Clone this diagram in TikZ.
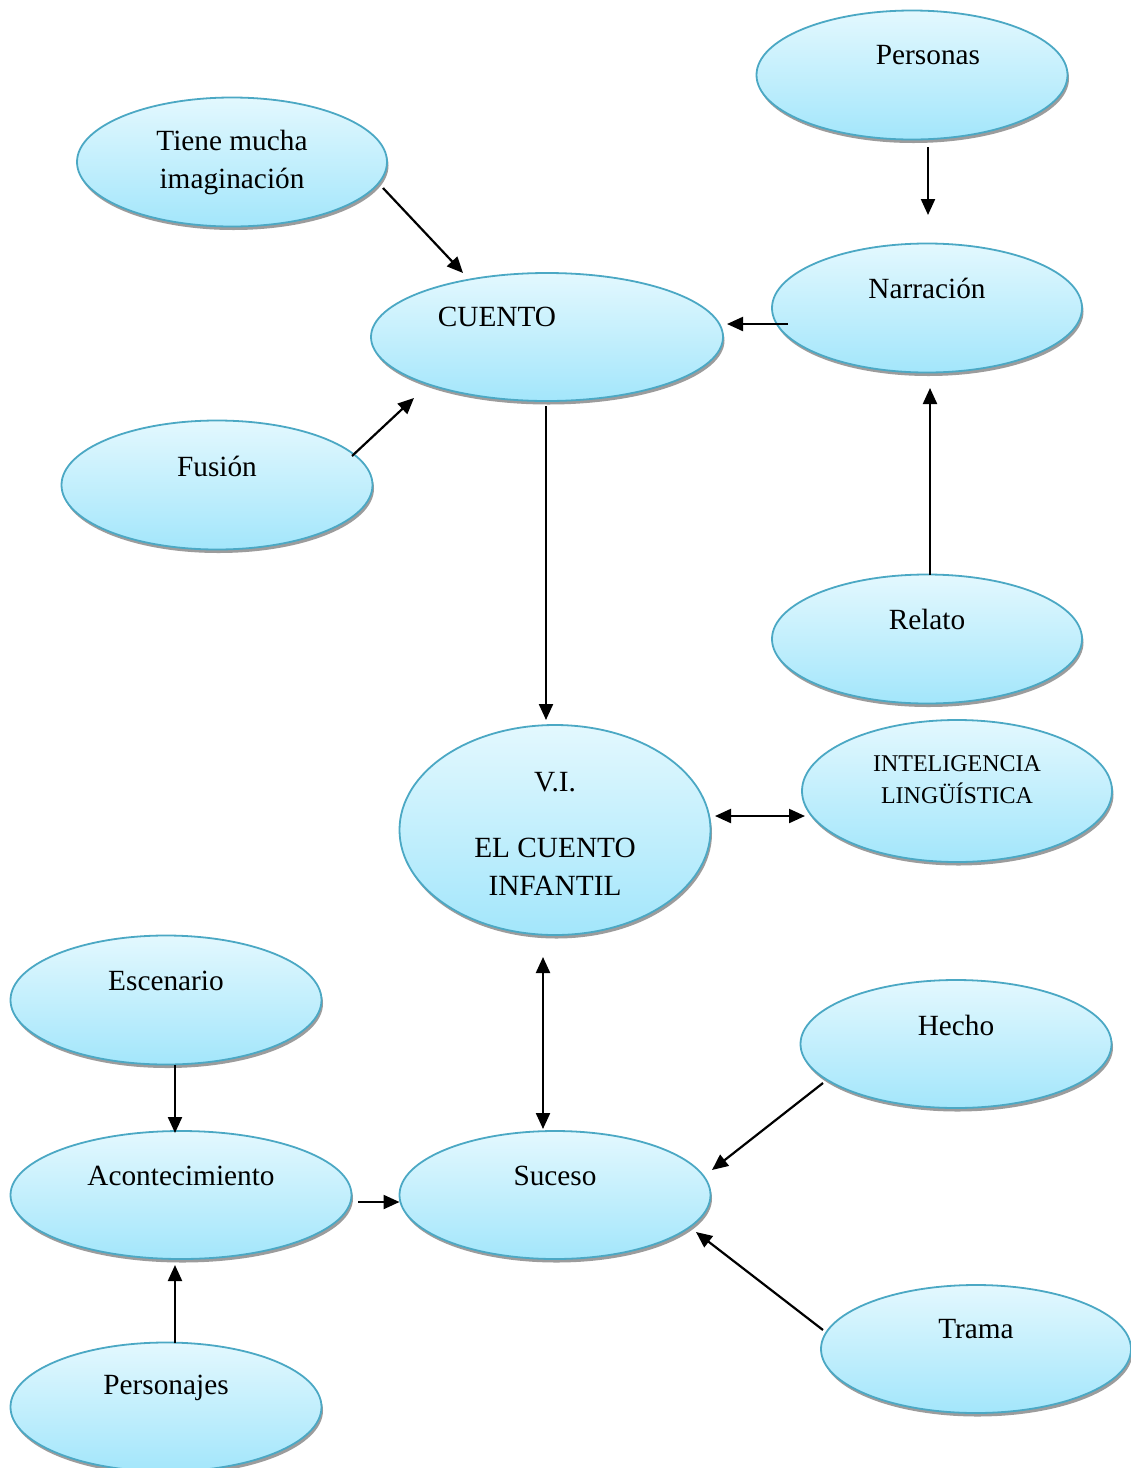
\documentclass[tikz,border=0pt]{standalone}
\usepackage{fontspec}
\setmainfont{Liberation Serif}
\usetikzlibrary{shapes.geometric,shadows,arrows.meta}
\definecolor{bord}{HTML}{4BA8C4}
\definecolor{topc}{HTML}{E3F8FE}
\definecolor{botc}{HTML}{A3E6FB}
\definecolor{shadowc}{HTML}{9C9C9C}
\tikzset{
  ell/.style={ellipse, draw=bord, line width=1.8pt, top color=topc, bottom color=botc,
    minimum width=311pt, minimum height=129pt, inner sep=0pt, outer sep=0pt,
    drop shadow={shadow xshift=1.5pt, shadow yshift=-3.5pt, fill=shadowc, opacity=1}},
  lbl/.style={font=\fontsize{29.3}{38}\selectfont, align=center, inner sep=0pt, text=black},
  smlbl/.style={font=\fontsize{24}{32}\selectfont, align=center, inner sep=0pt, text=black},
  arr/.style={line width=2.2pt, -{Triangle[length=16pt,width=14pt]}},
  darr/.style={line width=2.2pt, {Triangle[length=16pt,width=14pt]}-{Triangle[length=16pt,width=14pt]}}
}
\begin{document}
\begin{tikzpicture}[x=1pt,y=-1pt]
\useasboundingbox[fill=white] (0,0) rectangle (1131,1468);

\node[ell, label={[lbl,xshift=16pt,yshift=20pt]center:Personas}] (personas) at (912,75) {};
\node[ell, minimum width=310pt, label={[lbl]center:Tiene mucha\\imaginación}] (tiene) at (232,162) {};
\node[ell, minimum width=310pt, label={[lbl,yshift=20pt]center:Narración}] (narracion) at (927,308) {};
\node[ell, minimum width=352pt, minimum height=128pt, label={[lbl,xshift=-50pt,yshift=20pt]center:CUENTO}] (cuento) at (547,337) {};
\node[ell, label={[lbl,yshift=19pt]center:Fusión}] (fusion) at (217,485) {};
\node[ell, minimum width=310pt, label={[lbl,yshift=20pt]center:Relato}] (relato) at (927,639) {};
\node[ell, minimum height=210pt, label={[lbl,yshift=-4pt]center:V.I.\\[28pt]EL CUENTO\\INFANTIL}] (vi) at (555,830) {};
\node[ell, minimum width=310pt, minimum height=142pt, label={[smlbl,yshift=11pt]center:INTELIGENCIA\\LINGÜÍSTICA}] (intel) at (957,791) {};
\node[ell, label={[lbl,yshift=19pt]center:Escenario}] (escenario) at (166,1000) {};
\node[ell, minimum height=128pt, label={[lbl,yshift=19pt]center:Hecho}] (hecho) at (956,1044) {};
\node[ell, minimum width=341pt, minimum height=128pt, label={[lbl,yshift=19pt]center:Acontecimiento}] (acont) at (181,1195) {};
\node[ell, minimum height=128pt, label={[lbl,yshift=19pt]center:Suceso}] (suceso) at (555,1195) {};
\node[ell, minimum width=310pt, minimum height=128pt, label={[lbl,yshift=20pt]center:Trama}] (trama) at (976,1349) {};
\node[ell, label={[lbl,yshift=19pt]center:Personajes}] (personajes) at (166,1407) {};

\draw[arr, shorten <=7.5pt, shorten >=28.5pt] ([xshift=16pt]personas.south) -- ([xshift=1pt]narracion.north);
\draw[arr] ([xshift=-4pt,yshift=-26pt]tiene.east) -- ([xshift=-84pt]cuento.north);
\draw[arr] ([xshift=16pt,yshift=-16pt]narracion.west) -- ([xshift=4pt,yshift=13pt]cuento.east);
\draw[arr] ([xshift=-20.5pt,yshift=29pt]fusion.east) -- ([xshift=-133pt,yshift=3pt]cuento.south);
\draw[arr, shorten <=5pt, shorten >=5pt] ([xshift=-1pt]cuento.south) -- ([xshift=-9pt]vi.north);
\draw[arr, shorten >=15.5pt] ([xshift=3pt]relato.north) -- ([xshift=3pt]narracion.south);
\draw[darr] ([xshift=4.5pt,yshift=14pt]vi.east) -- ([xshift=3pt,yshift=-25pt]intel.west);
\draw[darr, shorten <=22pt, shorten >=2pt] ([xshift=-12pt]vi.south) -- ([xshift=-12pt]suceso.north);
\draw[arr, shorten >=-2pt] ([xshift=9pt]escenario.south) -- ([xshift=-6pt]acont.north);
\draw[arr, shorten >=6pt] ([xshift=9pt]personajes.north) -- ([xshift=-6pt]acont.south);
\draw[arr, shorten <=6.5pt] ([yshift=-7pt]acont.east) -- ([yshift=-7pt]suceso.west);
\draw[arr] ([xshift=22.5pt,yshift=-39pt]hecho.west) -- ([xshift=1.5pt,yshift=25pt]suceso.east);
\draw[arr] ([xshift=2pt,yshift=19pt]trama.west) -- ([xshift=-14.5pt,yshift=-37pt]suceso.east);
\end{tikzpicture}
\end{document}
